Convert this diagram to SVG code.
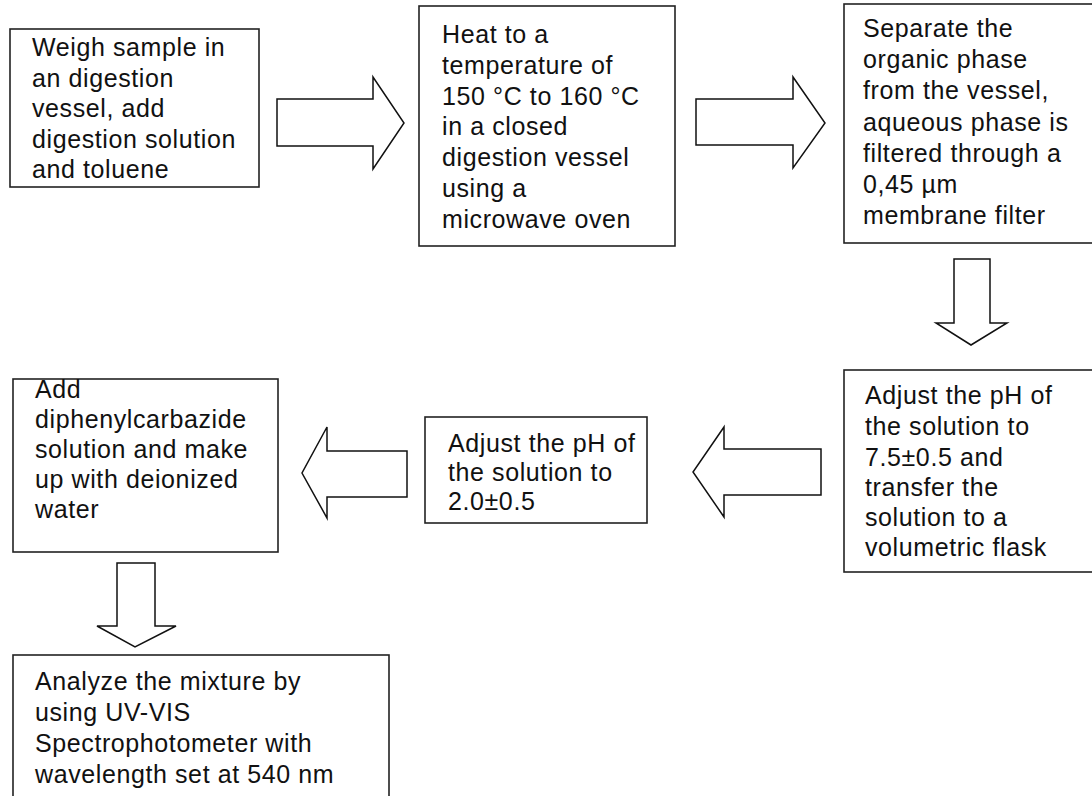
<svg xmlns="http://www.w3.org/2000/svg" width="1092" height="796" viewBox="0 0 1092 796">
<style>
.box{fill:#fff;stroke:#222;stroke-width:1.6}
.arr{fill:#fff;stroke:#111;stroke-width:1.5;stroke-linejoin:miter}
text{font-family:"Liberation Sans",Arial,sans-serif;font-size:25px;letter-spacing:0.6px;fill:#111}
</style>
<rect width="1092" height="796" fill="#fff"/>
<g id="connectors">
<polygon class="arr" points="277,99 373,99 373,77 404,123 373,169 373,146 277,146"/>
<polygon class="arr" points="696,99 793,99 793,77 825,123 793,168 793,145 696,145"/>
<polygon class="arr" points="954,259 990,259 990,323 1007,323 971,345 936,323 954,323"/>
<polygon class="arr" points="821,449 724,449 724,427 693,472 724,517 724,495 821,495"/>
<polygon class="arr" points="407,451 327,451 327,427 302,473 327,518 327,497 407,497"/>
<polygon class="arr" points="117,563 155,563 155,626 176,626 135,647 97,626 117,626"/>
</g>
<g id="n1">
<rect class="box" x="10" y="29" width="249" height="158"/>
<text x="32" y="56">Weigh sample in</text>
<text x="32" y="86.5">an digestion</text>
<text x="32" y="117">vessel, add</text>
<text x="32" y="147.5">digestion solution</text>
<text x="32" y="178">and toluene</text>
</g>
<g id="n2">
<rect class="box" x="419" y="6" width="256" height="240"/>
<text x="442" y="43">Heat to a</text>
<text x="442" y="73.8">temperature of</text>
<text x="442" y="104.6">150 °C to 160 °C</text>
<text x="442" y="135.4">in a closed</text>
<text x="442" y="166.2">digestion vessel</text>
<text x="442" y="197">using a</text>
<text x="442" y="227.8">microwave oven</text>
</g>
<g id="n3">
<rect class="box" x="844" y="4" width="260" height="239"/>
<text x="863" y="37">Separate the</text>
<text x="863" y="68.2">organic phase</text>
<text x="863" y="99.4">from the vessel,</text>
<text x="863" y="130.6">aqueous phase is</text>
<text x="863" y="161.8">filtered through a</text>
<text x="863" y="193">0,45 µm</text>
<text x="863" y="224.2">membrane filter</text>
</g>
<g id="n4">
<rect class="box" x="844" y="370" width="260" height="202"/>
<text x="865" y="404">Adjust the pH of</text>
<text x="865" y="435">the solution to</text>
<text x="865" y="466">7.5±0.5 and</text>
<text x="865" y="496">transfer the</text>
<text x="865" y="526">solution to a</text>
<text x="865" y="556">volumetric flask</text>
</g>
<g id="n5">
<rect class="box" x="425" y="417" width="222" height="106"/>
<text x="448" y="452">Adjust the pH of</text>
<text x="448" y="481">the solution to</text>
<text x="448" y="510">2.0±0.5</text>
</g>
<g id="n6">
<rect class="box" x="13" y="379" width="265" height="173"/>
<text x="35" y="398">Add</text>
<text x="35" y="428">diphenylcarbazide</text>
<text x="35" y="458">solution and make</text>
<text x="35" y="488">up with deionized</text>
<text x="35" y="518">water</text>
</g>
<g id="n7">
<rect class="box" x="13" y="655" width="376" height="160"/>
<text x="35" y="690">Analyze the mixture by</text>
<text x="35" y="721">using UV-VIS</text>
<text x="35" y="752">Spectrophotometer with</text>
<text x="35" y="783">wavelength set at 540 nm</text>
</g>
</svg>
